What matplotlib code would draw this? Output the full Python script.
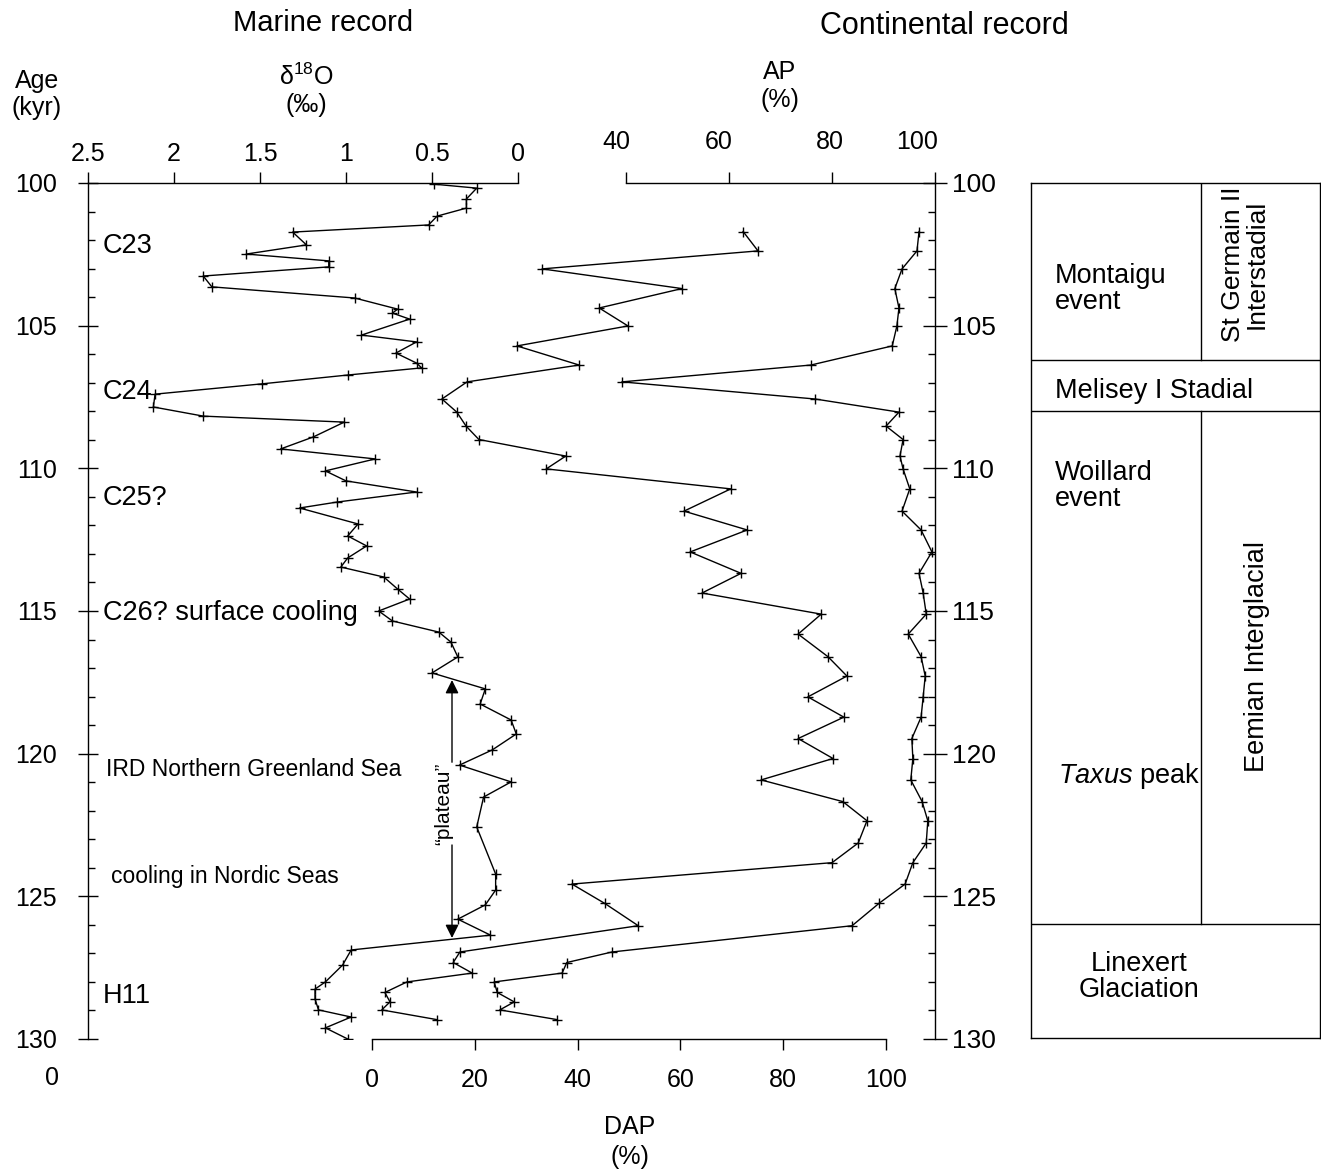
import numpy as np
import matplotlib.pyplot as plt
from matplotlib import transforms
from matplotlib.ticker import MultipleLocator

plt.rcParams['font.family'] = ['Liberation Sans', 'DejaVu Sans']
plt.rcParams['mathtext.fontset'] = 'custom'
plt.rcParams['mathtext.rm'] = 'Liberation Sans'
plt.rcParams['mathtext.it'] = 'Liberation Sans:italic'
plt.rcParams['mathtext.default'] = 'regular'

# marine record: d18O (per mil) against age (kyr)
o18_age = [100.04, 100.18, 100.56, 100.88, 101.16, 101.47, 101.72, 102.17, 102.49, 102.73,
           102.94, 103.26, 103.64, 104.03, 104.42, 104.56, 104.77, 105.33, 105.57, 105.96,
           106.31, 106.48, 106.73, 107.04, 107.40, 107.85, 108.17, 108.38, 108.90, 109.32,
           109.67, 110.09, 110.44, 110.83, 111.18, 111.39, 111.95, 112.37, 112.72, 113.14,
           113.46, 113.81, 114.23, 114.58, 115.00, 115.35, 115.74, 116.09, 116.61, 117.17,
           117.73, 118.26, 118.82, 119.31, 119.87, 120.40, 120.99, 121.52, 122.57, 124.22,
           124.78, 125.30, 125.80, 126.36, 126.88, 127.41, 128.00, 128.25, 128.60, 128.98,
           129.23, 129.61, 130.00]
o18_val = [0.49, 0.24, 0.30, 0.30, 0.47, 0.52, 1.31, 1.23, 1.58, 1.10,
           1.10, 1.83, 1.78, 0.95, 0.70, 0.73, 0.63, 0.91, 0.59, 0.71,
           0.59, 0.56, 0.99, 1.49, 2.11, 2.12, 1.83, 1.01, 1.19, 1.38,
           0.83, 1.12, 1.00, 0.59, 1.05, 1.27, 0.93, 0.99, 0.88, 0.99,
           1.03, 0.78, 0.70, 0.63, 0.81, 0.73, 0.46, 0.39, 0.35, 0.50,
           0.19, 0.22, 0.04, 0.01, 0.15, 0.34, 0.04, 0.20, 0.24, 0.13,
           0.13, 0.19, 0.35, 0.16, 0.97, 1.02, 1.12, 1.18, 1.18, 1.16,
           0.97, 1.12, 0.99]

# pollen records (same samples)
pollen_age = [101.70, 102.38, 103.01, 103.70, 104.38, 105.01, 105.71, 106.38, 106.97, 107.57,
              108.03, 108.52, 108.99, 109.57, 110.02, 110.72, 111.50, 112.16, 112.93, 113.68,
              114.37, 115.11, 115.81, 116.60, 117.28, 118.01, 118.72, 119.47, 120.17, 120.92,
              121.68, 122.35, 123.13, 123.82, 124.57, 125.25, 126.03, 126.95, 127.32, 127.69,
              128.00, 128.37, 128.70, 128.98, 129.32]
dap_val = [72.2, 75.1, 33.1, 60.3, 44.2, 49.8, 28.2, 40.3, 18.5, 13.6,
           16.5, 18.3, 20.8, 37.7, 33.9, 69.8, 60.7, 73.0, 61.9, 71.8,
           64.2, 87.4, 82.9, 88.7, 92.4, 84.8, 91.8, 82.9, 89.7, 75.7,
           91.6, 96.3, 94.6, 89.5, 38.9, 45.3, 51.8, 17.1, 15.8, 19.5,
           6.8, 2.5, 3.5, 1.9, 12.6]
ap_val = [96.9, 96.5, 93.6, 92.2, 93.0, 92.6, 91.7, 75.9, 39.2, 76.7,
          93.0, 90.5, 93.8, 93.2, 93.8, 95.1, 93.6, 97.3, 99.4, 96.9,
          97.7, 98.3, 94.8, 97.3, 98.1, 97.7, 97.3, 95.5, 95.7, 95.3,
          97.5, 98.6, 98.3, 95.7, 94.2, 89.1, 83.9, 37.3, 28.5, 27.6,
          14.4, 15.0, 18.3, 15.5, 26.6]

o18_ticks = [2.5, 2, 1.5, 1, 0.5, 0]
o18_labels = ['2.5', '2', '1.5', '1', '0.5', '0']
ap_ticks = [40, 60, 80, 100]
dap_ticks = [0, 20, 40, 60, 80, 100]

# stratigraphic column: boundaries (kyr)
col_bounds = [106.2, 108.0, 126.0]

W, H = 1321, 1170
fig = plt.figure(figsize=(W / 100, H / 100), dpi=100)


def fx(px):
    return px / W


def fy(py):
    return 1 - py / H


L, R, T, B = 88, 935, 183, 1039
rect = [fx(L), fy(B), (R - L) / W, (B - T) / H]

ax = fig.add_axes(rect)
ax.set_ylim(130, 100)
ax.set_xlim((518 - L) / 172, (518 - R) / 172)
ax_d = ax.twiny()
ax_d.set_xlim((L - 372) / 5.14, (R - 372) / 5.14)
ax_a = ax.twiny()
ax_a.set_xlim(40 + (L - 626) / 5.15, 40 + (R - 626) / 5.15)
ax_r = ax.twinx()
ax_r.set_ylim(130, 100)

lw = 1.0
kw = dict(color='black', lw=lw, marker='+', ms=7, mew=1.0)
ax.plot(o18_val, o18_age, **kw)
ax_d.plot(dap_val, pollen_age, **kw)
ax_a.plot(ap_val, pollen_age, **kw)

for a in (ax, ax_d, ax_a, ax_r):
    for s in a.spines.values():
        s.set_visible(False)
        s.set_linewidth(lw)

# age axes
ax.spines['left'].set_visible(True)
ax.yaxis.set_major_locator(MultipleLocator(5))
ax.yaxis.set_minor_locator(MultipleLocator(1))
ax.tick_params(axis='y', which='major', direction='inout', length=15, width=lw,
               labelsize=18, pad=15, left=True, right=False)
ax.tick_params(axis='y', which='minor', direction='in', length=5, width=lw, left=True, right=False)

ax_r.spines['right'].set_visible(True)
ax_r.yaxis.set_major_locator(MultipleLocator(5))
ax_r.yaxis.set_minor_locator(MultipleLocator(1))
ax_r.tick_params(axis='y', which='major', direction='inout', length=17, width=lw,
                 labelsize=19, pad=4)
ax_r.tick_params(axis='y', which='minor', direction='in', length=5, width=lw)
ax_r.tick_params(axis='x', which='both', bottom=False, top=False, labelbottom=False, labeltop=False)

# d18O top axis
ax.xaxis.set_ticks_position('top')
ax.spines['top'].set_visible(True)
ax.spines['top'].set_bounds(2.5, 0)
ax.set_xticks(o18_ticks)
ax.set_xticklabels(o18_labels)
ax.tick_params(axis='x', direction='out', length=8, width=lw, labelsize=18, pad=4)

# AP top axis
ax_a.spines['top'].set_visible(True)
ax_a.spines['top'].set_bounds(40, 100)
ax_a.set_xticks(ap_ticks)
ax_a.tick_params(axis='x', direction='out', length=8, width=lw, labelsize=18, pad=13)
for lab, dx in zip(ax_a.get_xticklabels(), [-10, -10, -2, -18]):
    lab.set_transform(lab.get_transform() + transforms.ScaledTranslation(dx / 100, 0, fig.dpi_scale_trans))

# DAP bottom axis
ax_d.xaxis.set_ticks_position('bottom')
ax_d.spines['bottom'].set_visible(True)
ax_d.spines['bottom'].set_bounds(0, 100)
ax_d.set_xticks(dap_ticks)
ax_d.tick_params(axis='x', direction='out', length=8, width=lw, labelsize=18, pad=13)

for a in (ax_d, ax_a):
    a.tick_params(axis='y', which='both', left=False, right=False, labelleft=False, labelright=False)

# annotations in the marine panel
tl = transforms.blended_transform_factory(fig.transFigure, ax.transData)
ax.text(fx(103), 102.2, 'C23', transform=tl, fontsize=19.5, va='center')
ax.text(fx(103), 107.33, 'C24', transform=tl, fontsize=19.5, va='center')
ax.text(fx(103), 111.04, 'C25?', transform=tl, fontsize=19.5, va='center')
ax.text(fx(103), 115.07, 'C26? surface cooling', transform=tl, fontsize=19.5, va='center')
ax.text(fx(106), 120.57, 'IRD Northern Greenland Sea', transform=tl, fontsize=16.5, va='center')
ax.text(fx(111), 124.32, 'cooling in Nordic Seas', transform=tl, fontsize=16.5, va='center')
ax.text(fx(103), 128.49, 'H11', transform=tl, fontsize=19.5, va='center')

# "plateau" arrows
xp = (518 - 452) / 172
ap_kw = dict(arrowstyle='-|>', color='black', lw=lw, mutation_scale=20,
             shrinkA=0, shrinkB=0)
ax.annotate('', xy=(xp, 117.42), xytext=(xp, 120.3), arrowprops=ap_kw)
ax.annotate('', xy=(xp, 126.46), xytext=(xp, 123.2), arrowprops=ap_kw)
ax.text((518 - 444) / 172, 121.75, '\u201cplateau\u201d', rotation=90, fontsize=15,
        ha='center', va='center')

# stratigraphic column
ax_t = fig.add_axes([fx(1031), fy(1038), (1320 - 1031) / W, (1038 - 183) / H])
ax_t.set_xlim(0, 1)
ax_t.set_ylim(130, 100)
ax_t.set_xticks([])
ax_t.set_yticks([])
for s in ax_t.spines.values():
    s.set_linewidth(lw)
for b in col_bounds:
    ax_t.axhline(b, color='black', lw=lw)
xv = (1201 - 1031) / 289
ax_t.plot([xv, xv], [100, col_bounds[0]], color='black', lw=lw)
ax_t.plot([xv, xv], [col_bounds[1], col_bounds[2]], color='black', lw=lw)

x0 = (1055 - 1031) / 289
ax_t.text(x0, 103.73, 'Montaigu\nevent', fontsize=19.5, va='center', linespacing=1.0)
ax_t.text(x0, 107.29, 'Melisey I Stadial', fontsize=19.5, va='center')
ax_t.text(x0, 110.62, 'Woillard\nevent', fontsize=19.5, va='center', linespacing=1.0)
ax_t.text((1058 - 1031) / 289, 120.82, r'$\mathit{Taxus}$ peak', fontsize=19.5, va='center')
ax_t.text((1139 - 1031) / 289, 127.85, 'Linexert\nGlaciation', fontsize=19.5,
          ha='center', va='center', ma='center', linespacing=1.0)
ax_t.text((1245 - 1031) / 289, 102.85, 'St Germain II\nInterstadial', fontsize=19,
          rotation=90, ha='center', va='center', linespacing=0.95)
ax_t.text((1257 - 1031) / 289, 116.6, 'Eemian Interglacial', fontsize=19.5,
          rotation=90, ha='center', va='center')

# headings and axis titles
fig.text(fx(323), fy(23), 'Marine record', fontsize=21, ha='center', va='center')
fig.text(fx(944), fy(26), 'Continental record', fontsize=22, ha='center', va='center')
fig.text(fx(37), fy(81), 'Age', fontsize=18, ha='center', va='center')
fig.text(fx(37), fy(108), '(kyr)', fontsize=18, ha='center', va='center')
fig.text(fx(306), fy(77), r'$\delta^{18}$O', fontsize=18, ha='center', va='center')
fig.text(fx(306), fy(105), '(\u2030)', fontsize=18, ha='center', va='center')
fig.text(fx(780), fy(72), 'AP', fontsize=18, ha='center', va='center')
fig.text(fx(780), fy(100), '(%)', fontsize=18, ha='center', va='center')
fig.text(fx(630), fy(1127), 'DAP', fontsize=18, ha='center', va='center')
fig.text(fx(630), fy(1157), '(%)', fontsize=18, ha='center', va='center')
fig.text(fx(52), fy(1078), '0', fontsize=18, ha='center', va='center')

fig.savefig('out.png', dpi=100)
